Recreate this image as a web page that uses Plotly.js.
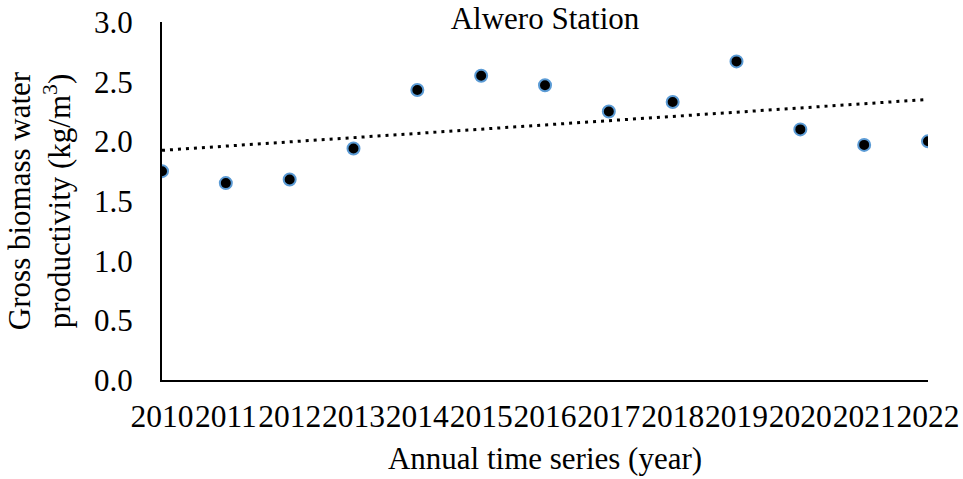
<!DOCTYPE html>
<html>
<head>
<meta charset="utf-8">
<script src="https://cdn.plot.ly/plotly-3.0.1.min.js"></script>
<style>html,body{margin:0;padding:0;background:#fff;}#chart{width:963px;height:479px;}</style>
</head>
<body>
<div id="chart"></div>
<script>
const years = [2010, 2011, 2012, 2013, 2014, 2015, 2016, 2017, 2018, 2019, 2020, 2021, 2022];
const productivity = [1.75, 1.65, 1.68, 1.94, 2.43, 2.55, 2.47, 2.25, 2.33, 2.67, 2.10, 1.97, 2.00];
const yTicks = [0, 0.5, 1.0, 1.5, 2.0, 2.5, 3.0];

// Linear trendline (least squares) fitted to the series
const n = years.length;
const mx = years.reduce((a, b) => a + b, 0) / n;
const my = productivity.reduce((a, b) => a + b, 0) / n;
let sxy = 0, sxx = 0;
for (let i = 0; i < n; i++) { sxy += (years[i] - mx) * (productivity[i] - my); sxx += (years[i] - mx) ** 2; }
const slope = sxy / sxx, icpt = my - slope * mx;
const trendX = [years[0], years[n - 1]];
const trendY = trendX.map(x => icpt + slope * x);

const FONT = 'Liberation Serif, Times New Roman, serif';

const traces = [
  {x: trendX, y: trendY, type: 'scatter', mode: 'lines',
   line: {color: '#000', width: 3, dash: '3px,5px'}, hoverinfo: 'skip', showlegend: false},
  {x: years, y: productivity, type: 'scatter', mode: 'markers',
   marker: {size: 12, color: '#000', line: {color: '#5b9bd5', width: 2}}, showlegend: false}
];

const layout = {
  width: 963, height: 479,
  margin: {l: 162, r: 35, t: 22, b: 99},
  paper_bgcolor: '#fff', plot_bgcolor: '#fff',
  font: {family: FONT, size: 31, color: '#000'},
  title: {text: 'Alwero Station', font: {family: FONT, size: 31, color: '#000'},
          x: 0.5, xanchor: 'center', xref: 'paper', y: 0.985, yanchor: 'top'},
  xaxis: {
    range: [2010, 2022], tickmode: 'array', tickvals: years, ticktext: years.map(String),
    tickangle: 0,
    showgrid: false, zeroline: false, showline: true, linecolor: '#000', linewidth: 2,
    ticks: '', ticklabelstandoff: 7, tickfont: {family: FONT, size: 31.5, color: '#000'},
    title: {text: 'Annual time series (year)', font: {family: FONT, size: 31, color: '#000'}, standoff: 15}
  },
  yaxis: {
    range: [0, 3], tickmode: 'array', tickvals: yTicks, ticktext: yTicks.map(v => v.toFixed(1)),
    showgrid: false, zeroline: false, showline: true, linecolor: '#000', linewidth: 2,
    ticks: '', ticklabelstandoff: 21, tickfont: {family: FONT, size: 31, color: '#000'},
    title: {text: 'Gross biomass water<br>productivity (kg/m<sup>3</sup>)', font: {family: FONT, size: 31, color: '#000'}, standoff: 14}
  }
};

Plotly.newPlot('chart', traces, layout, {staticPlot: true, displayModeBar: false});
</script>
</body>
</html>
